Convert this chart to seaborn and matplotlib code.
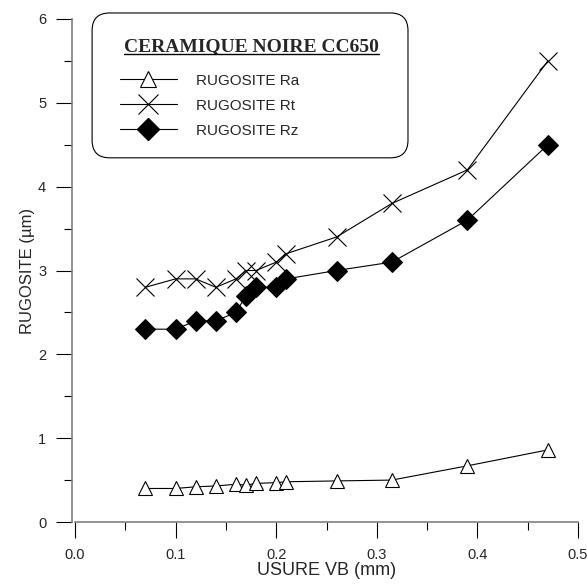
import pandas as pd
import matplotlib.pyplot as plt
import seaborn as sns
from matplotlib.patches import FancyBboxPatch
from matplotlib.lines import Line2D
from matplotlib.ticker import MultipleLocator

# Data
usure_vb = [0.07, 0.10, 0.12, 0.14, 0.16, 0.17, 0.18, 0.20, 0.21, 0.26, 0.315, 0.39, 0.47]
rugosite_ra = [0.40, 0.40, 0.42, 0.43, 0.45, 0.44, 0.46, 0.47, 0.48, 0.49, 0.50, 0.67, 0.86]
rugosite_rt = [2.8, 2.9, 2.9, 2.8, 2.9, 3.0, 3.0, 3.1, 3.2, 3.4, 3.8, 4.2, 5.5]
rugosite_rz = [2.3, 2.3, 2.4, 2.4, 2.5, 2.7, 2.8, 2.8, 2.9, 3.0, 3.1, 3.6, 4.5]

legend_title = "CERAMIQUE NOIRE CC650"
labels = ["RUGOSITE Ra", "RUGOSITE Rt", "RUGOSITE Rz"]

df = pd.DataFrame({"vb": usure_vb, "ra": rugosite_ra, "rt": rugosite_rt, "rz": rugosite_rz})

sns.set_style("ticks")
plt.rcParams['font.family'] = ['Liberation Sans', 'DejaVu Sans']

fig = plt.figure(figsize=(5.87, 5.84), dpi=100)
ax = fig.add_axes([75 / 587, 1 - 522 / 584, 503 / 587, 503 / 584])

common = dict(color="black", linewidth=0.8, ax=ax, legend=False)
sns.lineplot(data=df, x="vb", y="ra", marker="^", markersize=10,
             markerfacecolor="white", markeredgecolor="black", markeredgewidth=0.8, **common)
sns.lineplot(data=df, x="vb", y="rt", marker="x", markersize=13,
             markeredgecolor="black", markeredgewidth=0.8, **common)
sns.lineplot(data=df, x="vb", y="rz", marker="D", markersize=10,
             markerfacecolor="black", markeredgecolor="black", **common)

ax.set_xlim(0, 0.5)
ax.set_ylim(0, 6)
ax.xaxis.set_major_locator(MultipleLocator(0.1))
ax.xaxis.set_minor_locator(MultipleLocator(0.05))
ax.yaxis.set_major_locator(MultipleLocator(1))
ax.yaxis.set_minor_locator(MultipleLocator(0.5))
ax.xaxis.set_major_formatter(plt.FuncFormatter(lambda v, p: f"{v:.1f}"))

sns.despine(ax=ax)
ax.spines["left"].set_position(("outward", 2.2))
for side in ["left", "bottom"]:
    ax.spines[side].set_color("#808080")
    ax.spines[side].set_linewidth(1.2)

ax.tick_params(which="major", length=11.5, width=0.8, color="black", labelsize=10.5, pad=7)
ax.tick_params(which="minor", length=6, width=0.8, color="black")

ax.set_xlabel("USURE VB (mm)", fontsize=13, labelpad=0)
ax.set_ylabel("RUGOSITE (µm)", fontsize=12, labelpad=2)

# Rounded legend box
box = FancyBboxPatch((0.034, 0.724), 0.628, 0.288, boxstyle="round,pad=0,rounding_size=0.035",
                     transform=ax.transAxes, facecolor="white", edgecolor="black",
                     linewidth=0.8, clip_on=False, zorder=5)
ax.add_patch(box)

title = ax.text(0.351, 0.936, legend_title, transform=ax.transAxes, ha="center", va="baseline",
                fontfamily="Liberation Serif", fontweight="bold", fontsize=14, zorder=6)

handles = [
    Line2D([], [], color="black", linewidth=0.8, marker="^", markersize=11,
           markerfacecolor="white", markeredgecolor="black", markeredgewidth=0.8),
    Line2D([], [], color="black", linewidth=0.8, marker="x", markersize=14,
           markeredgewidth=0.8),
    Line2D([], [], color="black", linewidth=0.8, marker="D", markersize=11,
           markerfacecolor="black"),
]
leg = ax.legend(handles, labels, loc="upper left", bbox_to_anchor=(0.0895, 0.891),
                frameon=False, fontsize=11, handlelength=3.7, handletextpad=1.25,
                labelspacing=0.72, borderaxespad=0, borderpad=0)
leg.set_zorder(7)

# underline the legend title
fig.canvas.draw()
bb = title.get_window_extent()
y_line = ax.transAxes.transform((0, 0.930))[1]
fig.add_artist(Line2D([bb.x0, bb.x1], [y_line, y_line], color="black",
                      linewidth=1.0, transform=None, zorder=8))

fig.savefig("out.png", dpi=100)
